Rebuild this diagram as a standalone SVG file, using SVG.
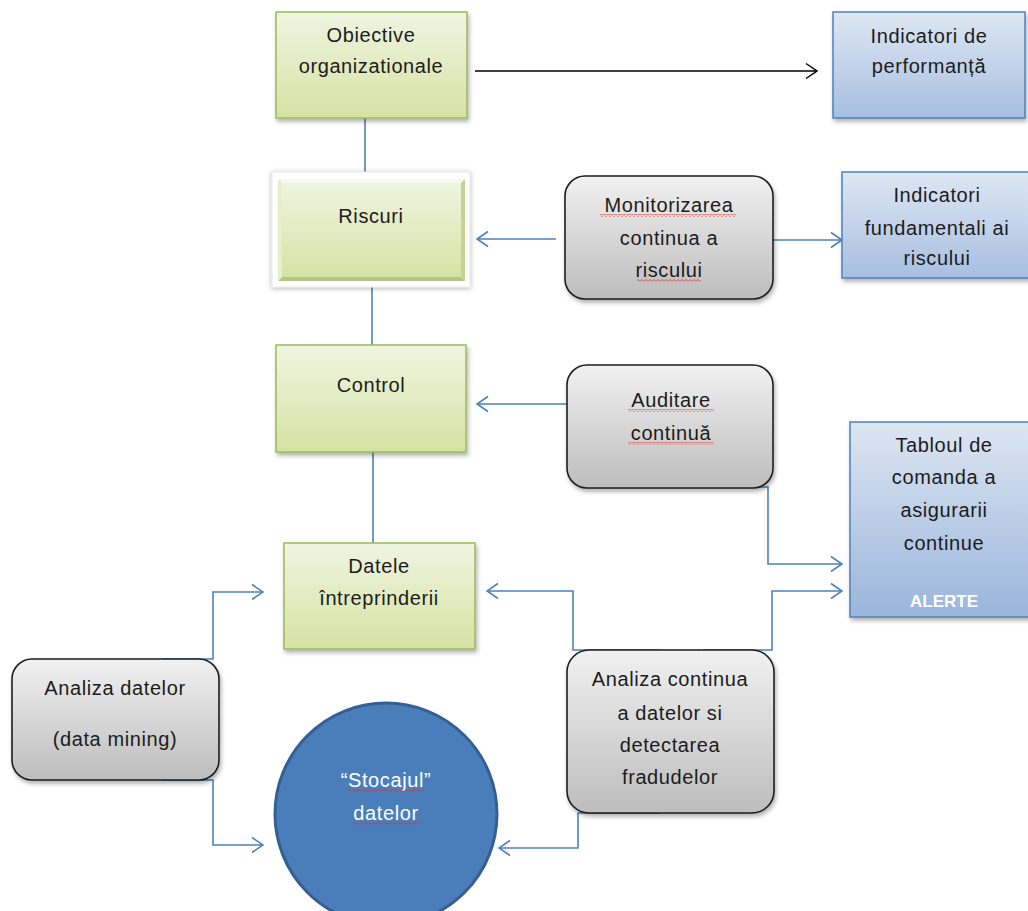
<svg xmlns="http://www.w3.org/2000/svg" width="1028" height="911" viewBox="0 0 1028 911">
  <defs>
    <linearGradient id="gGreen" x1="0" y1="0" x2="0" y2="1">
      <stop offset="0" stop-color="#f0f5e1"/>
      <stop offset="1" stop-color="#d5e2a3"/>
    </linearGradient>
    <linearGradient id="gBlue" x1="0" y1="0" x2="0" y2="1">
      <stop offset="0" stop-color="#dee7f3"/>
      <stop offset="1" stop-color="#a7bfe1"/>
    </linearGradient>
    <linearGradient id="gBlueTall" x1="0" y1="0" x2="0" y2="1">
      <stop offset="0" stop-color="#dde6f2"/>
      <stop offset="1" stop-color="#9ab5db"/>
    </linearGradient>
    <linearGradient id="gGray" x1="0" y1="0" x2="0" y2="1">
      <stop offset="0" stop-color="#f1f1f1"/>
      <stop offset="1" stop-color="#bdbdbd"/>
    </linearGradient>
    <filter id="shadow" x="-10%" y="-10%" width="125%" height="130%">
      <feDropShadow dx="1.5" dy="3" stdDeviation="2" flood-color="#000" flood-opacity="0.3"/>
    </filter>
    <filter id="glow" x="-10%" y="-15%" width="120%" height="135%">
      <feDropShadow dx="0" dy="1" stdDeviation="2.5" flood-color="#000" flood-opacity="0.3"/>
    </filter>
    <pattern id="squiggle" width="4" height="3" patternUnits="userSpaceOnUse">
      <path d="M0,2.5 L2,0.5 L4,2.5" fill="none" stroke="#e03030" stroke-width="0.9"/>
    </pattern>
    <marker id="arrowBlue" markerUnits="userSpaceOnUse" markerWidth="13" markerHeight="18" viewBox="0 0 13 18" refX="12" refY="9" orient="auto">
      <path d="M1,1.5 L12,9 L1,16.5" fill="none" stroke="#4f81bd" stroke-width="1.6"/>
    </marker>
    <marker id="arrowBlack" markerUnits="userSpaceOnUse" markerWidth="13" markerHeight="18" viewBox="0 0 13 18" refX="12" refY="9" orient="auto">
      <path d="M1,1.5 L12,9 L1,16.5" fill="none" stroke="#000" stroke-width="1.4"/>
    </marker>
  </defs>
  <style>
    text { font-family: "Liberation Sans", Arial, sans-serif; font-size: 20px; fill: #1c1c1c; text-anchor: middle; letter-spacing: 0.6px; }
    .green { fill: url(#gGreen); stroke: #9bbb59; stroke-width: 1.5; filter: url(#shadow); }
    .blue { fill: url(#gBlue); stroke: #4f81bd; stroke-width: 1.5; filter: url(#shadow); }
    .gray { fill: url(#gGray); stroke: #1e1e1e; stroke-width: 1.6; filter: url(#shadow); }
    .conn { fill: none; stroke: #4f81bd; stroke-width: 1.6; }
    .white { fill: #ffffff; }
    .sq { fill: url(#squiggle); }
  </style>

  <rect width="1028" height="911" fill="#ffffff"/>

  <!-- connectors -->
  <g id="connectors">
    <line x1="475" y1="71" x2="817" y2="71" stroke="#000" stroke-width="1.4" marker-end="url(#arrowBlack)"/>
    <line class="conn" x1="365" y1="118" x2="365" y2="172"/>
    <line class="conn" x1="372" y1="287" x2="372" y2="345"/>
    <line class="conn" x1="373" y1="452" x2="373" y2="543"/>
    <line class="conn" x1="556" y1="239" x2="477" y2="239" marker-end="url(#arrowBlue)"/>
    <line class="conn" x1="773" y1="240" x2="842" y2="240" marker-end="url(#arrowBlue)"/>
    <line class="conn" x1="567" y1="404" x2="477" y2="404" marker-end="url(#arrowBlue)"/>
    <path class="conn" d="M693,487 L768,487 L768,564 L842,564" marker-end="url(#arrowBlue)"/>
    <path class="conn" d="M703,650 L772,650 L772,591 L842,591" marker-end="url(#arrowBlue)"/>
    <path class="conn" d="M660,650 L573,650 L573,591 L487,591" marker-end="url(#arrowBlue)"/>
    <path class="conn" d="M660,813 L578,813 L578,848 L499,848" marker-end="url(#arrowBlue)"/>
    <path class="conn" d="M162,659 L213,659 L213,592 L263,592" marker-end="url(#arrowBlue)"/>
    <path class="conn" d="M162,780 L213,780 L213,845 L263,845" marker-end="url(#arrowBlue)"/>
  </g>

  <g id="obiective">
    <rect class="green" x="276" y="12" width="191" height="106"/>
    <text x="371" y="42">Obiective</text>
    <text x="371" y="73">organizationale</text>
  </g>

  <g id="indicatori-performanta">
    <rect class="blue" x="833" y="12" width="192" height="106"/>
    <text x="929" y="43">Indicatori de</text>
    <text x="929" y="73">performanță</text>
  </g>

  <g id="riscuri">
    <rect x="272" y="172" width="198" height="115" fill="#ffffff" stroke="#e8e8e8" stroke-width="1" filter="url(#glow)"/>
    <rect x="278" y="179" width="187" height="102" fill="url(#gGreen)"/>
    <path d="M278,179 L465,179 L461,183 L282,183 Z" fill="#f6f9ec"/>
    <path d="M278,281 L465,281 L461,277 L282,277 Z" fill="#b3c683"/>
    <path d="M278,179 L282,183 L282,277 L278,281 Z" fill="#e6eecb"/>
    <path d="M465,179 L461,183 L461,277 L465,281 Z" fill="#c4d496"/>
    <text x="371" y="223">Riscuri</text>
  </g>

  <g id="monitorizarea">
    <rect class="gray" x="565" y="176" width="208" height="123" rx="20" ry="20"/>
    <text x="669" y="212">Monitorizarea</text>
    <text x="669" y="245">continua a</text>
    <text x="669" y="277">riscului</text>
    <rect class="sq" x="600" y="214" width="136" height="3"/>
    <rect class="sq" x="637" y="279" width="64" height="3"/>
  </g>

  <g id="indicatori-fundamentali">
    <rect class="blue" x="842" y="172" width="190" height="106"/>
    <text x="937" y="202">Indicatori</text>
    <text x="937" y="235">fundamentali ai</text>
    <text x="937" y="265">riscului</text>
  </g>

  <g id="control">
    <rect class="green" x="276" y="345" width="190" height="107"/>
    <text x="371" y="392">Control</text>
  </g>

  <g id="auditare">
    <rect class="gray" x="567" y="365" width="206" height="123" rx="20" ry="20"/>
    <text x="671" y="407">Auditare</text>
    <text x="671" y="440">continuă</text>
    <rect class="sq" x="628" y="409" width="86" height="3"/>
    <rect class="sq" x="628" y="442" width="86" height="3"/>
  </g>

  <g id="tabloul">
    <rect class="blue" x="850" y="422" width="182" height="195" style="fill:url(#gBlueTall)"/>
    <text x="944" y="452">Tabloul de</text>
    <text x="944" y="484">comanda a</text>
    <text x="944" y="517">asigurarii</text>
    <text x="944" y="550">continue</text>
    <text x="944" y="607" class="white" style="font-weight:bold;font-size:17px;letter-spacing:0">ALERTE</text>
  </g>

  <g id="datele">
    <rect class="green" x="284" y="543" width="191" height="106"/>
    <text x="379" y="573">Datele</text>
    <text x="379" y="605">întreprinderii</text>
  </g>

  <g id="analiza-datelor">
    <rect class="gray" x="12" y="659" width="207" height="121" rx="20" ry="20"/>
    <text x="115" y="695">Analiza datelor</text>
    <text x="115" y="746">(data mining)</text>
  </g>

  <g id="stocajul">
    <circle cx="386" cy="814" r="111" fill="#4a7ebb" stroke="#355f93" stroke-width="3"/>
    <text x="386" y="787" class="white">“Stocajul”</text>
    <text x="386" y="820" class="white">datelor</text>
    <rect class="sq" x="348" y="789" width="76" height="3"/>
    <rect class="sq" x="351" y="822" width="70" height="3"/>
  </g>

  <g id="analiza-continua">
    <rect class="gray" x="567" y="650" width="207" height="163" rx="22" ry="22"/>
    <text x="670" y="686">Analiza continua</text>
    <text x="670" y="720">a datelor si</text>
    <text x="670" y="752">detectarea</text>
    <text x="670" y="784">fradudelor</text>
  </g>
</svg>
